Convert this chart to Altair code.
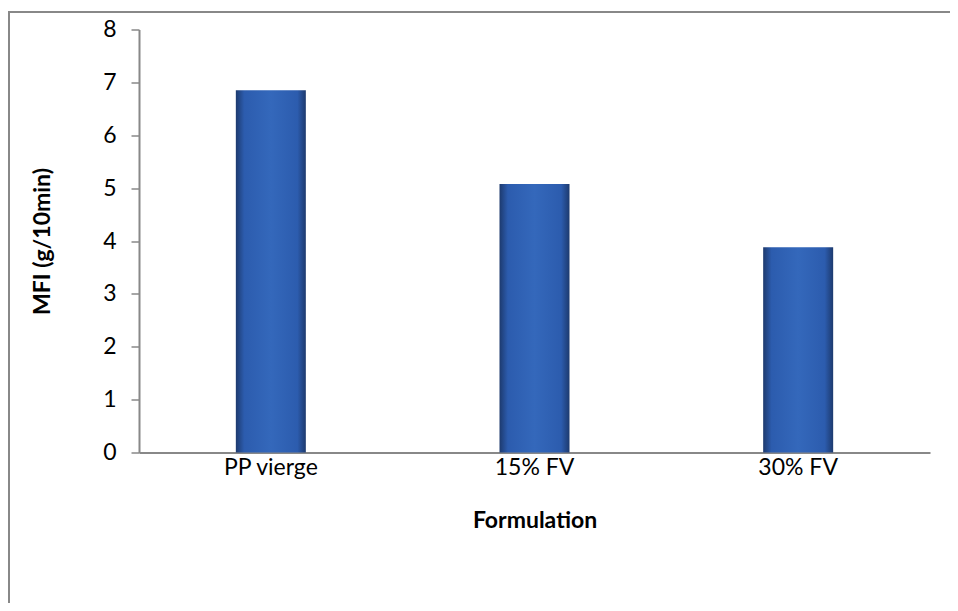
import altair as alt
import pandas as pd

categories = ["PP vierge", "15% FV", "30% FV"]
mfi_values = [6.85, 5.08, 3.88]

df = pd.DataFrame({"Formulation": categories, "MFI": mfi_values})

FONT = "Lato"

grad = alt.Gradient(
    gradient="linear", x1=0, x2=1, y1=0, y2=0,
    stops=[
        alt.GradientStop(color="#1d3a6e", offset=0),
        alt.GradientStop(color="#2c5cae", offset=0.12),
        alt.GradientStop(color="#3468bb", offset=0.5),
        alt.GradientStop(color="#2c5cae", offset=0.88),
        alt.GradientStop(color="#1d3a6e", offset=1),
    ],
)

bars = alt.Chart(df).mark_bar(size=70, color=grad).encode(
    x=alt.X("Formulation:N", sort=categories,
            scale=alt.Scale(paddingInner=0, paddingOuter=0),
            axis=alt.Axis(title="Formulation", labelAngle=0, ticks=False,
                          labelPadding=4, titlePadding=30,
                          domainColor="#888888", domainWidth=2)),
    y=alt.Y("MFI:Q", scale=alt.Scale(domain=[0, 8], nice=False),
            axis=alt.Axis(title="MFI (g/10min)", values=list(range(0, 9)),
                          grid=False, tickSize=8, tickColor="#888888",
                          tickWidth=1.5, domainColor="#888888", domainWidth=2,
                          labelPadding=15, titlePadding=48)),
)

top_line = alt.Chart(df).mark_rule(color="#888888", strokeWidth=2).encode(
    x=alt.value(-139), x2=alt.value(811), y=alt.value(-17.5)
)
left_line = alt.Chart(df).mark_rule(color="#888888", strokeWidth=2).encode(
    x=alt.value(-130), y=alt.value(-17.5), y2=alt.value(581)
)

chart = alt.layer(top_line, left_line, bars).properties(
    width=791, height=423,
    autosize=alt.AutoSizeParams(type="none"),
    padding={"left": 131, "top": 21.5, "right": 20, "bottom": 150},
).configure_view(stroke=None).configure_axis(
    labelFont=FONT, titleFont=FONT, labelFontSize=23, titleFontSize=23,
    labelColor="#000000", titleColor="#000000", titleFontWeight="bold",
)

chart.save("out.html", embed_options={"renderer": "svg", "actions": False})
